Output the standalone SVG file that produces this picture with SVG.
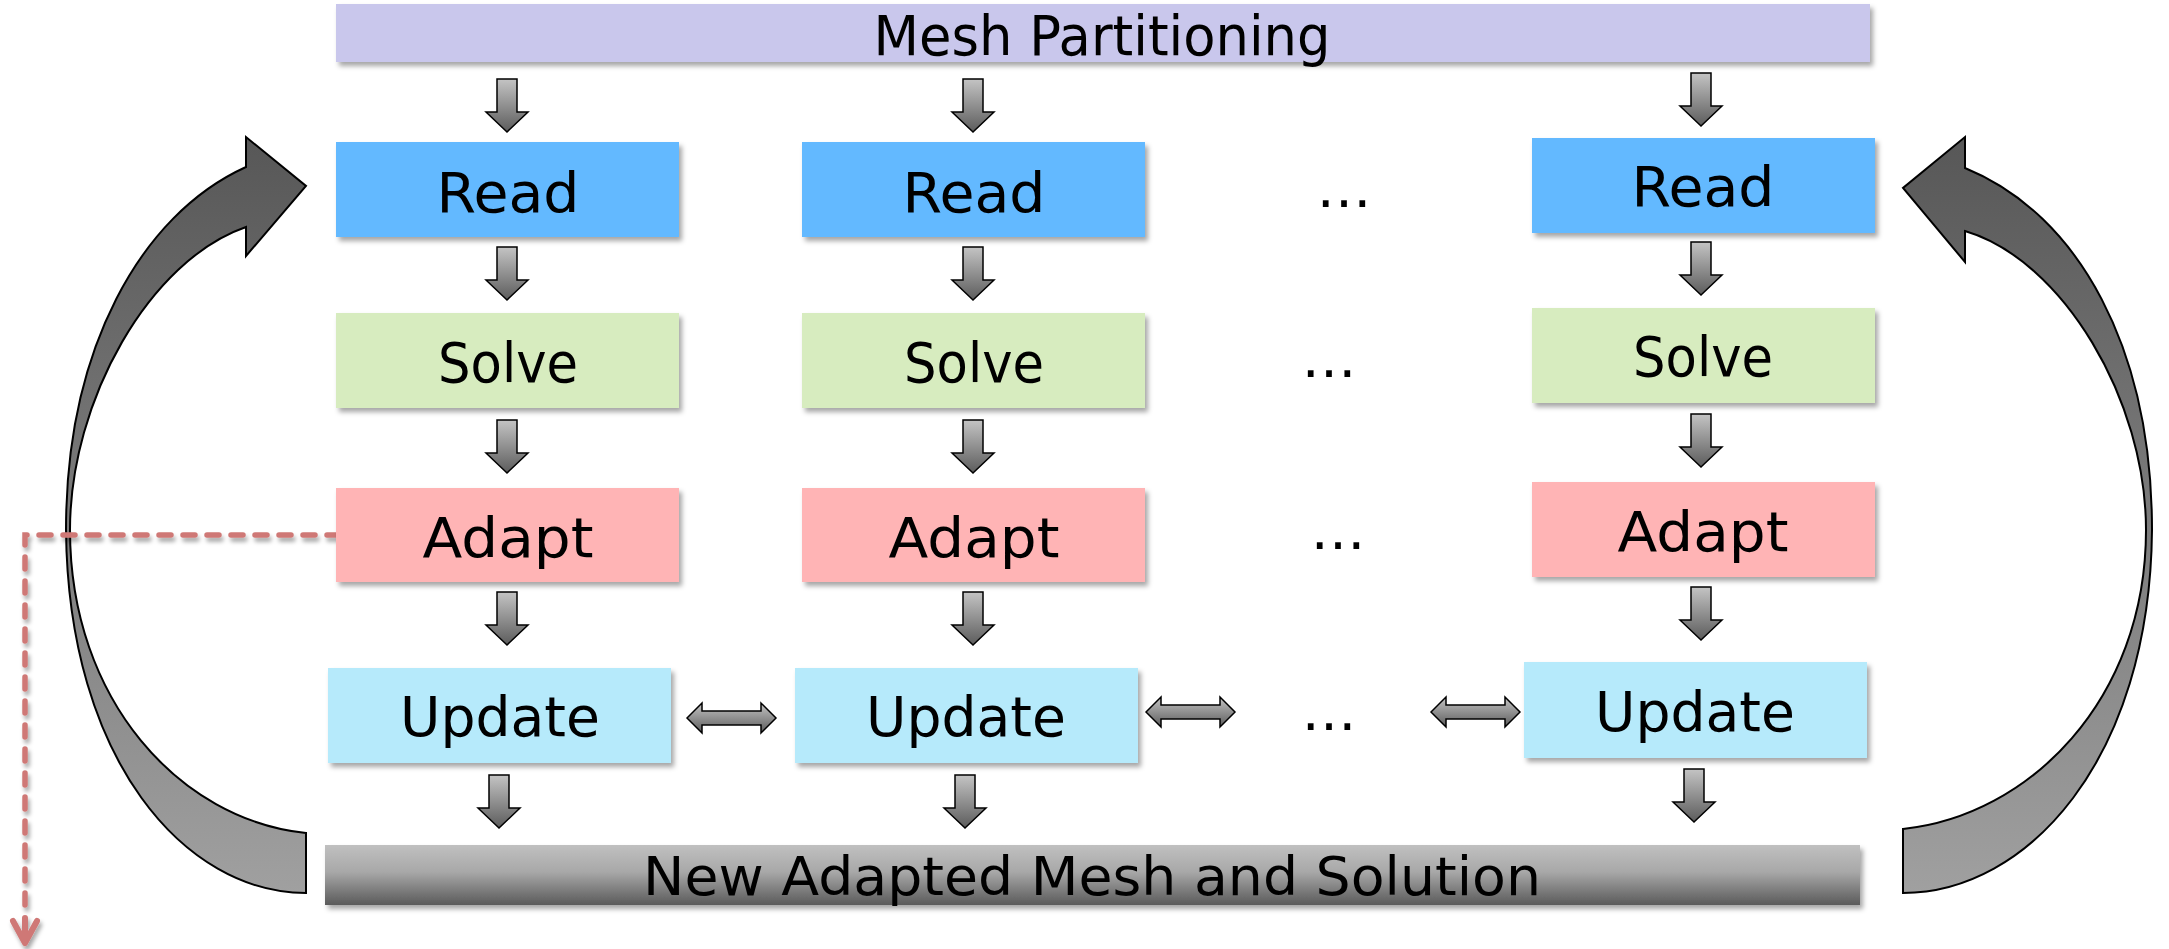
<svg xmlns="http://www.w3.org/2000/svg" width="2169" height="949" viewBox="0 0 2169 949">
<defs>
<linearGradient id="gArrow" x1="0" y1="0" x2="0" y2="1">
<stop offset="0" stop-color="#c4c4c4"/>
<stop offset="1" stop-color="#5c5c5c"/>
</linearGradient>
<linearGradient id="gBar" x1="0" y1="0" x2="0" y2="1">
<stop offset="0" stop-color="#c0c0c0"/>
<stop offset="0.45" stop-color="#a8a8a8"/>
<stop offset="1" stop-color="#5a5a5a"/>
</linearGradient>
<linearGradient id="gCurve" gradientUnits="userSpaceOnUse" x1="0" y1="137" x2="0" y2="893">
<stop offset="0" stop-color="#575757"/>
<stop offset="1" stop-color="#a0a0a0"/>
</linearGradient>
<filter id="sh" x="-5%" y="-20%" width="110%" height="150%">
<feDropShadow dx="3" dy="4" stdDeviation="2.5" flood-color="#000" flood-opacity="0.35"/>
</filter>
<filter id="shd" x="-10%" y="-10%" width="120%" height="120%">
<feDropShadow dx="2" dy="4" stdDeviation="2" flood-color="#000" flood-opacity="0.35"/>
</filter>
<path id="down" d="M-10,0 H10 V33 H21 L0,53 L-21,33 H-10 Z"/>
<path id="dbl" d="M0,0 L15,-15 V-7 H74 V-15 L89,0 L74,15 V7 H15 V15 Z"/>
</defs>
<style>
.lbl{font-family:"DejaVu Sans","Liberation Sans",sans-serif;font-size:55px;fill:#000;text-anchor:middle}
.dots{font-family:"DejaVu Sans","Liberation Sans",sans-serif;font-size:55px;fill:#000;text-anchor:middle}
.arr{fill:url(#gArrow);stroke:#000;stroke-width:1.5;stroke-linejoin:miter}
.curve{fill:url(#gCurve);stroke:#000;stroke-width:2}
.read{fill:#63b9ff}
.solve{fill:#d7ecbf}
.adapt{fill:#ffb4b5}
.update{fill:#b6eafb}
.dash{fill:none;stroke:#cf7876;stroke-width:5.5;stroke-linecap:round;stroke-dasharray:12 12}
</style>
<rect width="2169" height="949" fill="#fff"/>

<g id="connectors">
<path class="curve" d="M306,833 C180,820 70,700 70,530 C70,400 150,260 246,227 L246,256 L306,186 L246,137 L246,167 C140,215 66,350 66,530 C68,760 185,893 306,893 Z"/>
<path class="curve" d="M1903,829 C2029,816 2146,700 2146,530 C2146,400 2063,260 1965,231 L1965,262 L1903,188 L1965,137 L1965,168 C2080,215 2152,350 2152,530 C2150,760 2027,893 1903,893 Z"/>
<use href="#down" class="arr" x="507" y="79"/>
<use href="#down" class="arr" x="507" y="247"/>
<use href="#down" class="arr" x="507" y="420"/>
<use href="#down" class="arr" x="507" y="592"/>
<use href="#down" class="arr" x="499" y="775"/>
<use href="#down" class="arr" x="973" y="79"/>
<use href="#down" class="arr" x="973" y="247"/>
<use href="#down" class="arr" x="973" y="420"/>
<use href="#down" class="arr" x="973" y="592"/>
<use href="#down" class="arr" x="965" y="775"/>
<use href="#down" class="arr" x="1701" y="73"/>
<use href="#down" class="arr" x="1701" y="242"/>
<use href="#down" class="arr" x="1701" y="414"/>
<use href="#down" class="arr" x="1701" y="587"/>
<use href="#down" class="arr" x="1694" y="769"/>
<use href="#dbl" class="arr" x="687" y="718"/>
<use href="#dbl" class="arr" x="1146" y="712"/>
<use href="#dbl" class="arr" x="1431" y="712"/>
<g filter="url(#shd)">
<path class="dash" d="M339,535 H25 V908"/>
<polyline points="13,921 25,943 37,921" fill="none" stroke="#cf7876" stroke-width="6" stroke-linecap="round" stroke-linejoin="round"/>
<line x1="25" y1="918" x2="25" y2="940" stroke="#cf7876" stroke-width="6" stroke-linecap="round"/>
</g>
</g>

<g id="mesh-partitioning">
<rect x="336" y="4" width="1534" height="58" fill="#c9c7ec" filter="url(#sh)"/>
<text class="lbl" x="1102" y="55" textLength="457" lengthAdjust="spacingAndGlyphs">Mesh Partitioning</text>
</g>

<g id="read-1"><rect class="read" x="336" y="142" width="343" height="95" filter="url(#sh)"/><text class="lbl" x="508" y="212" textLength="143" lengthAdjust="spacingAndGlyphs">Read</text></g>
<g id="solve-1"><rect class="solve" x="336" y="313" width="343" height="95" filter="url(#sh)"/><text class="lbl" x="508" y="382" textLength="140" lengthAdjust="spacingAndGlyphs">Solve</text></g>
<g id="adapt-1"><rect class="adapt" x="336" y="488" width="343" height="94" filter="url(#sh)"/><text class="lbl" x="508" y="557" textLength="171" lengthAdjust="spacingAndGlyphs">Adapt</text></g>
<g id="update-1"><rect class="update" x="328" y="668" width="343" height="95" filter="url(#sh)"/><text class="lbl" x="500" y="736" textLength="200" lengthAdjust="spacingAndGlyphs">Update</text></g>

<g id="read-2"><rect class="read" x="802" y="142" width="343" height="95" filter="url(#sh)"/><text class="lbl" x="974" y="212" textLength="143" lengthAdjust="spacingAndGlyphs">Read</text></g>
<g id="solve-2"><rect class="solve" x="802" y="313" width="343" height="95" filter="url(#sh)"/><text class="lbl" x="974" y="382" textLength="140" lengthAdjust="spacingAndGlyphs">Solve</text></g>
<g id="adapt-2"><rect class="adapt" x="802" y="488" width="343" height="94" filter="url(#sh)"/><text class="lbl" x="974" y="557" textLength="171" lengthAdjust="spacingAndGlyphs">Adapt</text></g>
<g id="update-2"><rect class="update" x="795" y="668" width="343" height="95" filter="url(#sh)"/><text class="lbl" x="966" y="736" textLength="200" lengthAdjust="spacingAndGlyphs">Update</text></g>

<g id="read-n"><rect class="read" x="1532" y="138" width="343" height="95" filter="url(#sh)"/><text class="lbl" x="1703" y="206" textLength="143" lengthAdjust="spacingAndGlyphs">Read</text></g>
<g id="solve-n"><rect class="solve" x="1532" y="308" width="343" height="95" filter="url(#sh)"/><text class="lbl" x="1703" y="376" textLength="140" lengthAdjust="spacingAndGlyphs">Solve</text></g>
<g id="adapt-n"><rect class="adapt" x="1532" y="482" width="343" height="95" filter="url(#sh)"/><text class="lbl" x="1703" y="551" textLength="171" lengthAdjust="spacingAndGlyphs">Adapt</text></g>
<g id="update-n"><rect class="update" x="1524" y="662" width="343" height="96" filter="url(#sh)"/><text class="lbl" x="1695" y="731" textLength="200" lengthAdjust="spacingAndGlyphs">Update</text></g>

<g id="ellipsis-read"><text class="dots" x="1344" y="207">…</text></g>
<g id="ellipsis-solve"><text class="dots" x="1329" y="377">…</text></g>
<g id="ellipsis-adapt"><text class="dots" x="1338" y="549">…</text></g>
<g id="ellipsis-update"><text class="dots" x="1329" y="730">…</text></g>

<g id="new-adapted-mesh">
<rect x="325" y="845" width="1535" height="60" fill="url(#gBar)" filter="url(#sh)"/>
<text class="lbl" x="1092" y="895" font-size="54" style="font-size:54px" textLength="898" lengthAdjust="spacingAndGlyphs">New Adapted Mesh and Solution</text>
</g>
</svg>
